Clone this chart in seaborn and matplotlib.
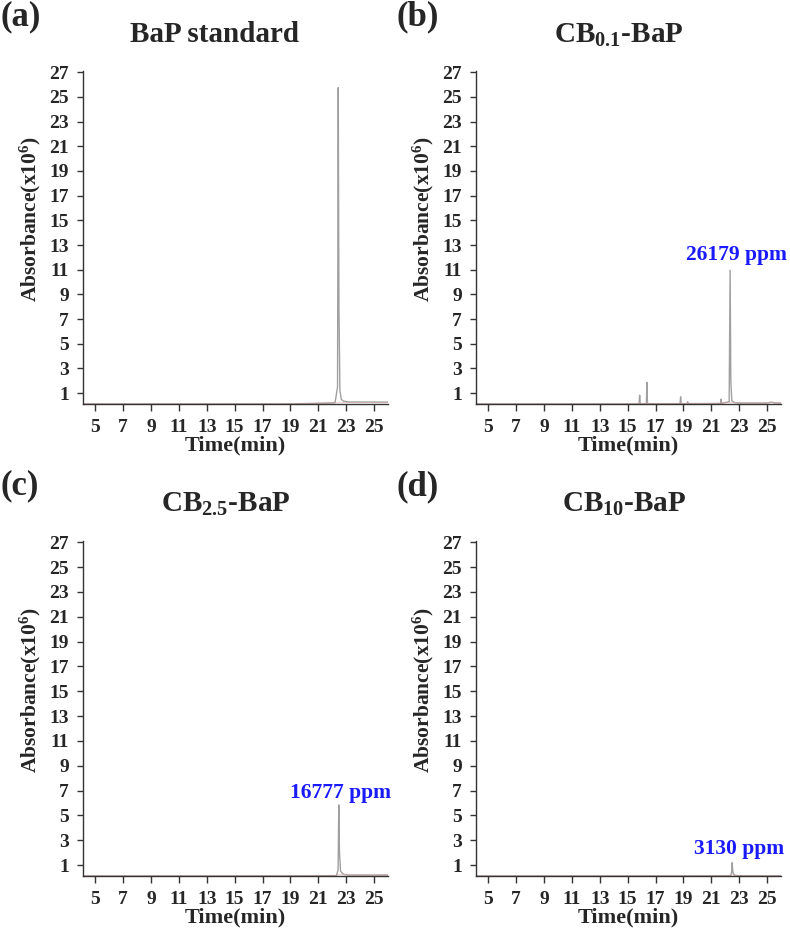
import numpy as np
import pandas as pd
import matplotlib
matplotlib.use("Agg")
import matplotlib.pyplot as plt
import seaborn as sns

sns.set_theme(style="white")
plt.rcParams['font.family'] = ['Liberation Serif', 'DejaVu Serif']
plt.rcParams['font.weight'] = 'bold'
plt.rcParams['mathtext.fontset'] = 'custom'
plt.rcParams['mathtext.rm'] = 'Liberation Serif:bold'
plt.rcParams['mathtext.it'] = 'Liberation Serif:bold'
plt.rcParams['mathtext.bf'] = 'Liberation Serif:bold'
plt.rcParams['mathtext.default'] = 'rm'

# ---- data ----
panel_labels = ["(a)", "(b)", "(c)", "(d)"]
titles = ["BaP standard", r"CB$_{0.1}$-BaP", r"CB$_{2.5}$-BaP", r"CB$_{10}$-BaP"]
annotations = [None, "26179 ppm", "16777 ppm", "3130 ppm"]
annot_x = [None, 22.8, 22.6, 23.0]
annot_y = [None, 12.2, 6.8, 2.3]

time_a = [4.1, 10.0, 19.0, 21.0, 22.2, 22.38, 22.43, 22.48, 22.55, 22.65, 22.8, 23.2, 26.0]
abs_a = [0.12, 0.12, 0.13, 0.18, 0.22, 1.5, 25.75, 8.0, 1.2, 0.5, 0.35, 0.28, 0.27]

time_b = [4.1, 15.0, 15.82, 15.86, 15.9, 16.34, 16.38, 16.42, 18.0, 18.76, 18.8, 18.84, 19.26,
          19.3, 19.34, 21.0, 21.66, 21.7, 21.74, 22.28, 22.35, 22.4, 22.47, 22.6, 23.0, 25.0,
          25.3, 25.6, 26.0]
abs_b = [0.12, 0.12, 0.13, 0.84, 0.13, 0.13, 1.87, 0.14, 0.14, 0.15, 0.7, 0.15, 0.15,
         0.3, 0.15, 0.16, 0.17, 0.5, 0.18, 0.3, 10.96, 2.0, 0.4, 0.25, 0.2, 0.2,
         0.27, 0.2, 0.2]

time_c = [4.1, 12.0, 20.0, 22.3, 22.42, 22.47, 22.52, 22.6, 22.8, 23.2, 26.0]
abs_c = [0.12, 0.12, 0.13, 0.15, 0.6, 5.85, 2.0, 0.5, 0.25, 0.2, 0.2]

time_d = [4.1, 12.0, 20.0, 22.4, 22.46, 22.5, 22.55, 22.65, 23.0, 26.0]
abs_d = [0.12, 0.12, 0.13, 0.14, 0.5, 1.19, 0.4, 0.18, 0.14, 0.13]

series_t = [time_a, time_b, time_c, time_d]
series_y = [abs_a, abs_b, abs_c, abs_d]

yticks = [1, 3, 5, 7, 9, 11, 13, 15, 17, 19, 21, 23, 25, 27]
xticks = [5, 7, 9, 11, 13, 15, 17, 19, 21, 23, 25]

W, H = 790, 938
fig = plt.figure(figsize=(W / 100, H / 100), dpi=100)

# axes boxes in pixel coords: left, right, top, bottom
boxes = [(83, 388, 71, 404), (476, 781, 71, 404), (83, 388, 541, 876), (476, 781, 541, 876)]
label_pos = [(1, 0), (397, 0), (1, 469), (397, 470)]
title_pos = [(214, 35), (619, 35), (226, 504), (624, 504)]

for i in range(4):
    l, r, t, b = boxes[i]
    ax = fig.add_axes([l / W, 1 - b / H, (r - l) / W, (b - t) / H])
    df = pd.DataFrame({"Time": series_t[i], "Abs": series_y[i]})
    sns.lineplot(data=df, x="Time", y="Abs", ax=ax, color="#a0a0a0", lw=1.0)
    # faint red baseline trace
    base = pd.DataFrame({"Time": series_t[i], "Abs": np.minimum(series_y[i], 0.25)})
    sns.lineplot(data=base, x="Time", y="Abs", ax=ax, color="#e8a0a0", lw=0.6, alpha=0.6)
    ax.set_xlim(4.12, 26.0)
    ax.set_ylim(0.12, 27.1)
    ax.set_yticks(yticks)
    ax.set_xticks(xticks)
    ax.tick_params(axis="both", which="major", direction="out", width=1,
                   color="#333333", labelsize=14, left=True, bottom=True)
    ax.tick_params(axis="y", length=4, pad=6)
    ax.tick_params(axis="x", length=5, pad=5.5)
    for lab in ax.get_xticklabels() + ax.get_yticklabels():
        lab.set_fontweight("bold")
    for s in ["top", "right"]:
        ax.spines[s].set_visible(False)
    for s in ["left", "bottom"]:
        ax.spines[s].set_color("#333333")
        ax.spines[s].set_linewidth(1.0)
    ax.set_xlabel("Time(min)", fontsize=16, fontweight="bold", labelpad=0)
    ax.set_ylabel(r"Absorbance(x10$^{6}$)", fontsize=15.5, fontweight="bold")
    ax.yaxis.set_label_coords(-0.13, 0.555)
    ax.grid(False)
    if annotations[i]:
        ax.text(annot_x[i], annot_y[i], annotations[i], color="#1a1aff", fontsize=15.5,
                fontweight="bold", ha="center", va="center", clip_on=False)
    lx, ly = label_pos[i]
    fig.text(lx / W, 1 - ly / H, panel_labels[i], fontsize=25, fontweight="bold",
             ha="left", va="top")
    tx, ty = title_pos[i]
    fig.text(tx / W, 1 - ty / H, titles[i], fontsize=21, fontweight="bold",
             ha="center", va="center")

fig.savefig("out.png", dpi=100, facecolor="white")
